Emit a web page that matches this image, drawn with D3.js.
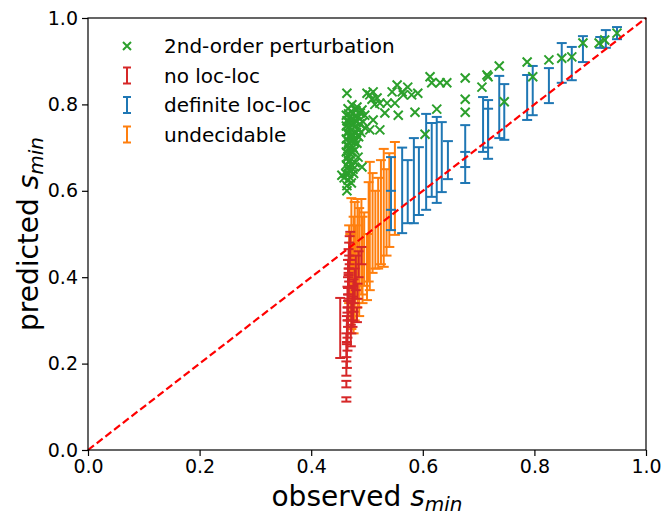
<!DOCTYPE html>
<html>
<head>
<meta charset="utf-8">
<script src="https://cdn.jsdelivr.net/npm/d3@7"></script>
<style>
  body { margin: 0; background: #fff; }
  text { font-family: "DejaVu Sans", sans-serif; fill: #000; }
</style>
</head>
<body>
<svg width="663" height="516"></svg>
<script>
// [observed, predicted] for the perturbation estimate
var pertPoints = [
  [0.455, 0.636], [0.459, 0.630], [0.462, 0.640], [0.464, 0.826], [0.464, 0.612],
  [0.463, 0.660], [0.463, 0.690], [0.463, 0.720], [0.463, 0.750], [0.463, 0.775],
  [0.464, 0.675], [0.464, 0.705], [0.464, 0.735], [0.464, 0.762], [0.464, 0.600],
  [0.466, 0.625], [0.466, 0.655], [0.466, 0.680], [0.466, 0.705], [0.466, 0.735],
  [0.466, 0.760], [0.466, 0.790], [0.467, 0.640], [0.467, 0.668], [0.467, 0.712],
  [0.467, 0.748], [0.467, 0.778], [0.469, 0.645], [0.469, 0.670], [0.469, 0.700],
  [0.469, 0.725], [0.469, 0.745], [0.469, 0.770], [0.470, 0.630], [0.470, 0.685],
  [0.470, 0.758], [0.472, 0.618], [0.472, 0.690], [0.472, 0.715], [0.472, 0.740],
  [0.472, 0.765], [0.473, 0.799], [0.473, 0.660], [0.474, 0.728], [0.475, 0.650],
  [0.475, 0.700], [0.475, 0.730], [0.475, 0.755], [0.475, 0.780], [0.476, 0.640],
  [0.477, 0.712], [0.478, 0.694], [0.478, 0.720], [0.478, 0.748], [0.478, 0.772],
  [0.479, 0.665], [0.480, 0.786], [0.481, 0.735], [0.481, 0.760], [0.482, 0.794],
  [0.482, 0.710], [0.484, 0.678], [0.484, 0.745], [0.484, 0.770], [0.485, 0.725],
  [0.487, 0.755], [0.488, 0.780], [0.489, 0.735], [0.491, 0.655], [0.491, 0.787],
  [0.493, 0.760], [0.496, 0.775], [0.497, 0.745],
  [0.500, 0.826], [0.505, 0.822], [0.505, 0.741], [0.509, 0.812], [0.511, 0.829],
  [0.511, 0.764], [0.514, 0.800], [0.518, 0.815], [0.523, 0.803], [0.523, 0.741],
  [0.532, 0.780], [0.536, 0.803], [0.545, 0.829], [0.550, 0.803], [0.554, 0.845],
  [0.556, 0.775], [0.563, 0.829], [0.565, 0.822], [0.573, 0.840], [0.580, 0.822],
  [0.586, 0.782], [0.591, 0.826], [0.604, 0.731], [0.613, 0.864], [0.616, 0.850],
  [0.625, 0.789], [0.631, 0.850], [0.643, 0.850], [0.676, 0.861], [0.676, 0.812],
  [0.676, 0.782], [0.706, 0.840], [0.715, 0.868], [0.717, 0.864], [0.737, 0.889],
  [0.746, 0.806], [0.787, 0.898], [0.797, 0.864], [0.826, 0.903], [0.849, 0.907],
  [0.867, 0.910], [0.887, 0.942], [0.916, 0.942], [0.926, 0.949], [0.948, 0.965]
];

// [observed, lower, upper] for each error bar group
var noLocLoc = [
  [0.452, 0.213, 0.352], [0.463, 0.112, 0.122], [0.463, 0.145, 0.160],
  [0.463, 0.172, 0.205], [0.464, 0.190, 0.245], [0.463, 0.215, 0.270],
  [0.465, 0.230, 0.300], [0.464, 0.250, 0.310], [0.465, 0.260, 0.330],
  [0.466, 0.285, 0.345], [0.466, 0.300, 0.360], [0.465, 0.318, 0.378],
  [0.466, 0.330, 0.400], [0.467, 0.350, 0.410], [0.467, 0.360, 0.420],
  [0.466, 0.375, 0.440], [0.468, 0.390, 0.450], [0.467, 0.405, 0.465],
  [0.468, 0.420, 0.480], [0.469, 0.430, 0.495], [0.470, 0.440, 0.505],
  [0.472, 0.270, 0.340], [0.471, 0.240, 0.290], [0.474, 0.285, 0.355],
  [0.475, 0.300, 0.380], [0.476, 0.320, 0.395], [0.478, 0.340, 0.420],
  [0.480, 0.370, 0.450], [0.482, 0.296, 0.330], [0.483, 0.350, 0.385],
  [0.485, 0.400, 0.460], [0.490, 0.430, 0.470]
];

var definiteLocLoc = [
  [0.543, 0.509, 0.678], [0.543, 0.556, 0.600], [0.563, 0.502, 0.700],
  [0.573, 0.525, 0.671], [0.584, 0.525, 0.722], [0.593, 0.544, 0.701],
  [0.606, 0.556, 0.778], [0.616, 0.586, 0.757], [0.625, 0.572, 0.771],
  [0.634, 0.597, 0.759], [0.645, 0.627, 0.715], [0.676, 0.618, 0.752],
  [0.676, 0.655, 0.690], [0.708, 0.690, 0.817], [0.717, 0.674, 0.810],
  [0.717, 0.700, 0.790], [0.737, 0.722, 0.866], [0.746, 0.718, 0.847],
  [0.787, 0.764, 0.868], [0.797, 0.775, 0.889], [0.826, 0.803, 0.884],
  [0.849, 0.850, 0.942], [0.867, 0.856, 0.933], [0.887, 0.898, 0.958],
  [0.918, 0.931, 0.956], [0.928, 0.931, 0.972], [0.948, 0.951, 0.979]
];

var undecidable = [
  [0.468, 0.340, 0.520], [0.470, 0.300, 0.500], [0.472, 0.280, 0.583],
  [0.474, 0.320, 0.480], [0.476, 0.270, 0.540], [0.478, 0.300, 0.574],
  [0.480, 0.350, 0.520], [0.483, 0.330, 0.581], [0.486, 0.310, 0.560],
  [0.490, 0.360, 0.581], [0.492, 0.340, 0.540], [0.495, 0.380, 0.550],
  [0.500, 0.347, 0.500], [0.503, 0.390, 0.620], [0.505, 0.370, 0.667],
  [0.510, 0.410, 0.641], [0.515, 0.420, 0.600], [0.520, 0.420, 0.630],
  [0.525, 0.430, 0.671], [0.530, 0.424, 0.697], [0.535, 0.450, 0.650],
  [0.540, 0.470, 0.687], [0.550, 0.498, 0.713]
];

var xTicks = [0, 0.2, 0.4, 0.6, 0.8, 1.0],
  yTicks = [0, 0.2, 0.4, 0.6, 0.8, 1.0];

var legendItems = [
  { label: "2nd-order perturbation", color: "#2ca02c", kind: "x" },
  { label: "no loc-loc", color: "#d62728", kind: "bar" },
  { label: "definite loc-loc", color: "#1f77b4", kind: "bar" },
  { label: "undecidable", color: "#ff7f0e", kind: "bar" }
];

var svg = d3.select("svg"),
  margin = { top: 18, right: 17, bottom: 66, left: 88 },
  width = svg.attr("width") - margin.left - margin.right,
  height = svg.attr("height") - margin.top - margin.bottom;

var x = d3.scaleLinear().domain([0, 1]).range([0, width]),
  y = d3.scaleLinear().domain([0, 1]).range([height, 0]);

var g = svg.append("g")
  .attr("transform", `translate(${margin.left},${margin.top})`);

var cap = 5;

function drawBars(data, color) {
  var bar = g.append("g").selectAll("g")
    .data(data)
    .enter().append("g")
    .attr("stroke", color)
    .attr("stroke-width", 2);
  bar.append("line")
    .attr("x1", d => x(d[0])).attr("x2", d => x(d[0]))
    .attr("y1", d => y(d[1])).attr("y2", d => y(d[2]));
  bar.append("line")
    .attr("x1", d => x(d[0]) - cap).attr("x2", d => x(d[0]) + cap)
    .attr("y1", d => y(d[1])).attr("y2", d => y(d[1]));
  bar.append("line")
    .attr("x1", d => x(d[0]) - cap).attr("x2", d => x(d[0]) + cap)
    .attr("y1", d => y(d[2])).attr("y2", d => y(d[2]));
}

drawBars(undecidable, "#ff7f0e");
drawBars(noLocLoc, "#d62728");
drawBars(definiteLocLoc, "#1f77b4");

var xm = 4.5;
g.append("g")
  .attr("stroke", "#2ca02c")
  .attr("stroke-width", 2)
  .selectAll("path")
  .data(pertPoints)
  .enter().append("path")
  .attr("d", d => {
    var px = x(d[0]), py = y(d[1]);
    return `M${px - xm},${py - xm}L${px + xm},${py + xm}M${px - xm},${py + xm}L${px + xm},${py - xm}`;
  });

// diagonal y = x
g.append("line")
  .attr("x1", x(0)).attr("y1", y(0))
  .attr("x2", x(1)).attr("y2", y(1))
  .attr("stroke", "#ff0000")
  .attr("stroke-width", 2.2)
  .attr("stroke-dasharray", "7.5,3.5");

// frame
g.append("rect")
  .attr("width", width).attr("height", height)
  .attr("fill", "none")
  .attr("stroke", "#000")
  .attr("stroke-width", 1.2);

var xAxis = g.append("g")
  .attr("transform", `translate(0,${height})`)
  .call(d3.axisBottom(x).tickValues(xTicks).tickFormat(d3.format(".1f")).tickSize(6).tickPadding(4));
var yAxis = g.append("g")
  .call(d3.axisLeft(y).tickValues(yTicks).tickFormat(d3.format(".1f")).tickSize(6).tickPadding(4));

[xAxis, yAxis].forEach(a => {
  a.select(".domain").remove();
  a.selectAll(".tick line").attr("stroke", "#000").attr("stroke-width", 1.2);
  a.selectAll(".tick text").style("font-size", "19px").attr("font-family", "DejaVu Sans");
});

// axis labels
var xl = svg.append("text")
  .attr("x", margin.left + width / 2)
  .attr("y", 506)
  .attr("text-anchor", "middle")
  .style("font-size", "28px");
xl.append("tspan").text("observed ");
xl.append("tspan").style("font-style", "italic").text("s");
xl.append("tspan").style("font-style", "italic").style("font-size", "20px").attr("dy", 5).text("min");

var yl = svg.append("text")
  .attr("transform", `translate(38,${margin.top + height / 2}) rotate(-90)`)
  .attr("text-anchor", "middle")
  .style("font-size", "28px");
yl.append("tspan").text("predicted ");
yl.append("tspan").style("font-style", "italic").text("s");
yl.append("tspan").style("font-style", "italic").style("font-size", "20px").attr("dy", 5).text("min");

// legend
var leg = svg.append("g").attr("transform", "translate(127,46)");
var row = leg.selectAll("g")
  .data(legendItems)
  .enter().append("g")
  .attr("transform", (d, i) => `translate(0,${i * 29.5})`);

row.filter(d => d.kind === "x").append("path")
  .attr("d", `M-4,-4L4,4M-4,4L4,-4`)
  .attr("stroke", d => d.color)
  .attr("stroke-width", 2);

row.filter(d => d.kind === "bar").append("path")
  .attr("d", "M-4,-8H4M0,-8V8M-4,8H4")
  .attr("fill", "none")
  .attr("stroke", d => d.color)
  .attr("stroke-width", 2);

row.append("text")
  .attr("x", 37)
  .attr("dy", "0.35em")
  .style("font-size", "20px")
  .text(d => d.label);
</script>
</body>
</html>
